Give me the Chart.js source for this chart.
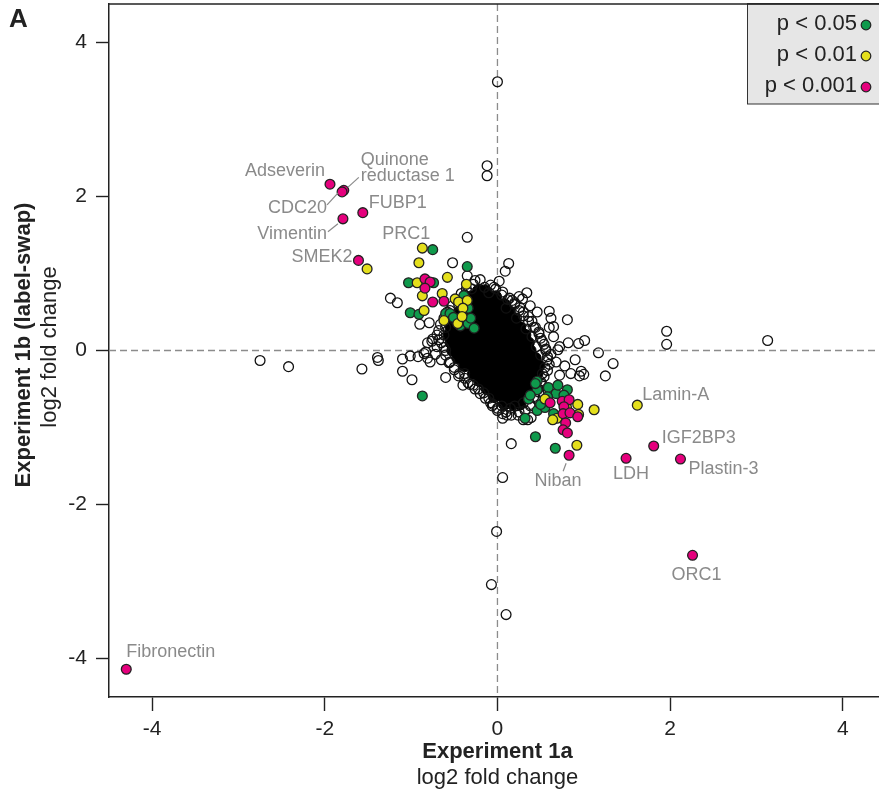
<!DOCTYPE html>
<html>
<head>
<meta charset="utf-8">
<script src="https://cdn.jsdelivr.net/npm/chart.js@4.4.1/dist/chart.umd.min.js"></script>
<style>
  html, body { margin: 0; padding: 0; background: #fff; overflow: hidden; }
  #wrap { width: 879px; height: 797px; }
</style>
</head>
<body>
<div id="wrap"><canvas id="foldchange" width="879" height="797"></canvas></div>
<script>
// tick values
const xTicks = [-4, -2, 0, 2, 4];
const yTicks = [-4, -2, 0, 2, 4];
const legendLabels = ['p < 0.05', 'p < 0.01', 'p < 0.001'];

// p < 0.001 (first 12 are the named proteins)
const p001 = [
	[-4.30, -4.14], [-1.94, 2.16], [-1.78, 2.08], [-1.80, 2.06], [-1.56, 1.79], [-1.79, 1.71],
	[-1.61, 1.17], [1.81, -1.24], [1.49, -1.40], [2.12, -1.41], [2.26, -2.66], [0.83, -1.36],
	[-0.84, 0.93], [-0.78, 0.89], [-0.84, 0.81], [-0.75, 0.63], [-0.62, 0.64],
	[0.61, -0.68], [0.75, -0.66], [0.83, -0.64], [0.77, -0.73], [0.76, -0.82], [0.84, -0.81],
	[0.93, -0.86], [0.79, -0.94], [0.76, -1.03], [0.81, -1.07]
];

// p < 0.01 (Lamin-A, PRC1 first)
const p01 = [
	[1.62, -0.71], [-0.87, 1.33], [-1.51, 1.06], [-0.91, 1.14], [-0.58, 0.95], [-0.93, 0.88],
	[-0.36, 0.86], [-0.87, 0.71], [-0.64, 0.74], [-0.49, 0.67], [-0.45, 0.63], [-0.35, 0.65],
	[-0.40, 0.55], [-0.85, 0.52], [-0.62, 0.39], [-0.46, 0.35], [-0.41, 0.44],
	[0.55, -0.63], [0.93, -0.70], [0.94, -0.83], [0.69, -0.88], [0.64, -0.90], [1.12, -0.77],
	[0.92, -1.23], [0.80, -0.74]
];

// p < 0.05
const p05 = [
	[-0.75, 1.31], [-0.35, 1.09], [-1.03, 0.88], [-0.74, 0.88], [-0.39, 0.71], [-0.34, 0.55],
	[-1.01, 0.49], [-0.91, 0.47], [-0.60, 0.48], [-0.55, 0.48], [-0.51, 0.43], [-0.43, 0.32],
	[-0.34, 0.35], [-0.27, 0.29], [-0.31, 0.42], [-0.87, -0.59],
	[0.46, -0.40], [0.46, -0.51], [0.59, -0.48], [0.68, -0.56], [0.81, -0.51], [0.77, -0.58],
	[0.36, -0.63], [0.46, -0.78], [0.55, -0.74], [0.65, -0.82], [0.32, -0.88], [0.44, -1.12],
	[0.67, -1.27], [0.44, -0.43], [0.38, -0.58], [0.50, -0.70], [0.58, -0.60], [0.70, -0.45]
];

// not significant, dense centre (outlines overlap into solid black)
const nsCore = [
	[-0.22, 0.78], [-0.14, 0.78],
	[-0.30, 0.70], [-0.20, 0.70], [-0.10, 0.70], [-0.02, 0.70],
	[-0.38, 0.60], [-0.28, 0.60], [-0.18, 0.60], [-0.08, 0.60], [0.02, 0.60], [0.08, 0.60],
	[-0.44, 0.50], [-0.34, 0.50], [-0.24, 0.50], [-0.14, 0.50], [-0.04, 0.50], [0.06, 0.50], [0.14, 0.50],
	[-0.50, 0.40], [-0.40, 0.40], [-0.30, 0.40], [-0.20, 0.40], [-0.10, 0.40], [0.00, 0.40], [0.10, 0.40], [0.20, 0.40],
	[-0.54, 0.30], [-0.44, 0.30], [-0.34, 0.30], [-0.24, 0.30], [-0.14, 0.30], [-0.04, 0.30], [0.06, 0.30], [0.16, 0.30], [0.26, 0.30],
	[-0.56, 0.20], [-0.46, 0.20], [-0.36, 0.20], [-0.26, 0.20], [-0.16, 0.20], [-0.06, 0.20], [0.04, 0.20], [0.14, 0.20], [0.24, 0.20], [0.32, 0.20],
	[-0.54, 0.10], [-0.44, 0.10], [-0.34, 0.10], [-0.24, 0.10], [-0.14, 0.10], [-0.04, 0.10], [0.06, 0.10], [0.16, 0.10], [0.26, 0.10], [0.36, 0.10],
	[-0.52, 0.00], [-0.42, 0.00], [-0.32, 0.00], [-0.22, 0.00], [-0.12, 0.00], [-0.02, 0.00], [0.08, 0.00], [0.18, 0.00], [0.28, 0.00], [0.38, 0.00],
	[-0.46, -0.10], [-0.36, -0.10], [-0.26, -0.10], [-0.16, -0.10], [-0.06, -0.10], [0.04, -0.10], [0.14, -0.10], [0.24, -0.10], [0.34, -0.10], [0.44, -0.10],
	[-0.38, -0.20], [-0.28, -0.20], [-0.18, -0.20], [-0.08, -0.20], [0.02, -0.20], [0.12, -0.20], [0.22, -0.20], [0.32, -0.20], [0.42, -0.20], [0.48, -0.20],
	[-0.28, -0.30], [-0.18, -0.30], [-0.08, -0.30], [0.02, -0.30], [0.12, -0.30], [0.22, -0.30], [0.32, -0.30], [0.42, -0.30], [0.46, -0.30],
	[-0.20, -0.40], [-0.10, -0.40], [0.00, -0.40], [0.10, -0.40], [0.20, -0.40], [0.30, -0.40], [0.40, -0.40],
	[-0.12, -0.50], [-0.02, -0.50], [0.08, -0.50], [0.18, -0.50], [0.28, -0.50], [0.38, -0.50],
	[-0.04, -0.60], [0.06, -0.60], [0.16, -0.60], [0.26, -0.60], [0.34, -0.60],
	[0.08, -0.70], [0.18, -0.70], [0.26, -0.70]
];

// not significant, visible single circles
const nsOuter = [
	[0.00, 3.49], [-0.12, 2.40], [-0.12, 2.27], [-0.35, 1.47], [0.13, 1.13], [0.09, 1.03], [-0.52, 1.14],
	[-0.35, 0.97], [-0.26, 0.91], [-1.24, 0.68], [-1.16, 0.62], [-0.90, 0.34], [-0.79, 0.36],
	[0.34, 0.75], [0.29, 0.67], [0.17, 0.65], [0.60, 0.51], [0.81, 0.40], [0.65, 0.31], [0.82, 0.10],
	[0.94, 0.09], [0.70, 0.01], [1.01, 0.13], [1.17, -0.03], [1.34, -0.17], [1.25, -0.33], [1.00, -0.31],
	[0.97, -0.27], [1.96, 0.25], [1.96, 0.08], [3.13, 0.13],
	[0.16, -1.21], [0.06, -1.65], [-0.01, -2.35], [-0.07, -3.04], [0.10, -3.43],
	[-2.75, -0.13], [-2.42, -0.21], [-1.57, -0.24], [-1.39, -0.09], [-1.38, -0.13], [-1.10, -0.11],
	[-1.01, -0.07], [-1.10, -0.27], [-0.99, -0.38], [-0.81, 0.10], [-0.83, -0.02], [-0.81, -0.10],
	[0.05, 0.72], [0.12, 0.66], [0.20, 0.60], [0.10, 0.55], [0.25, 0.52], [0.30, 0.45], [0.22, 0.42],
	[0.36, 0.38], [0.42, 0.30], [0.33, 0.28], [0.48, 0.22], [0.40, 0.18], [0.52, 0.12], [0.45, 0.05],
	[0.56, 0.02], [0.50, -0.06], [0.58, -0.12], [0.55, -0.22], [0.60, 0.30], [0.65, 0.18], [0.72, 0.05],
	[0.62, -0.05], [0.68, -0.15], [0.78, -0.20], [0.85, -0.30], [0.72, -0.32], [0.90, -0.12], [0.95, -0.33],
	[0.62, 0.42], [0.46, 0.50], [0.38, 0.58], [0.25, 0.70], [-0.02, 0.80], [0.02, 0.90], [-0.08, 0.85],
	[-0.15, 0.82], [-0.30, 0.80], [-0.20, 0.92], [-0.10, 0.75], [-0.38, 0.72], [-0.45, 0.60], [-0.55, 0.52],
	[-0.50, 0.40], [-0.60, 0.30], [-0.62, 0.20], [-0.65, 0.10], [-0.60, 0.00], [-0.70, 0.05], [-0.72, -0.05],
	[-0.65, -0.12], [-0.75, 0.15], [-0.76, 0.12], [-0.68, 0.14], [-0.85, -0.04], [-0.92, -0.08], [-0.78, -0.15],
	[-0.55, -0.15], [-0.50, -0.25], [-0.45, -0.33], [-0.38, -0.30], [-0.34, -0.42], [-0.28, -0.45],
	[-0.22, -0.50], [-0.16, -0.55], [-0.10, -0.62], [-0.05, -0.70], [0.00, -0.75], [0.05, -0.72],
	[0.10, -0.80], [0.15, -0.75], [0.20, -0.72], [0.25, -0.80], [-0.40, -0.45], [-0.60, -0.35],
	[0.30, -0.68], [0.38, -0.70], [0.42, -0.60], [0.47, -0.50], [0.50, -0.40], [0.52, -0.30],
	[0.30, -0.90], [0.35, -0.90], [0.39, -0.87], [0.11, -0.84], [0.06, -0.88], [-0.06, -0.72],
	[-0.28, 0.86], [-0.36, 0.80], [-0.42, 0.74], [-0.48, 0.66], [-0.52, 0.58], [-0.58, 0.50],
	[-0.62, 0.42], [-0.66, 0.34], [-0.68, 0.26], [-0.70, 0.20],
	[-0.04, 0.82], [0.06, 0.76], [0.14, 0.68], [0.20, 0.62], [0.26, 0.56], [0.30, 0.50], [0.36, 0.44],
	[0.40, 0.38], [0.44, 0.30], [0.48, 0.24], [0.50, 0.16], [0.54, 0.08], [0.56, 0.00], [0.58, -0.08],
	[0.60, -0.18], [0.58, -0.26],
	[-0.62, 0.04], [-0.60, -0.06], [-0.56, -0.16], [-0.50, -0.22], [-0.44, -0.30], [-0.38, -0.36],
	[-0.32, -0.44], [-0.26, -0.50], [-0.20, -0.56], [-0.14, -0.62], [-0.08, -0.68], [0.00, -0.78], [0.06, -0.82],
	[0.54, -0.34], [0.52, -0.44], [0.48, -0.54], [0.44, -0.62], [0.38, -0.72], [0.32, -0.78], [0.24, -0.84], [0.16, -0.84]
];

// gene labels: text, series, index, dx, dy, align, leader line
const geneLabels = [
	['Fibronectin', p001, 0, 0, -17, 'left'],
	['Adseverin', p001, 1, -5, -13, 'right'],
	['Quinone\nreductase 1', p001, 2, 17, -30, 'left', [4, -3, 15, -13]],
	['CDC20', p001, 3, -15, 16, 'right', [-4, 1, -15, 13]],
	['FUBP1', p001, 4, 6, -10, 'left'],
	['Vimentin', p001, 5, -16, 15, 'right', [-5, 5, -15, 13]],
	['SMEK2', p001, 6, -6, -3, 'right'],
	['IGF2BP3', p001, 7, 8, -8, 'left'],
	['LDH', p001, 8, 5, 16, 'center'],
	['Plastin-3', p001, 9, 8, 10, 'left'],
	['ORC1', p001, 10, 4, 20, 'center'],
	['Niban', p001, 11, -11, 26, 'center', [-3, 8, -6, 16]],
	['Lamin-A', p01, 0, 5, -10, 'left'],
	['PRC1', p01, 1, -16, -14, 'center']
];

const FONT = "'Liberation Sans', Arial, Helvetica, sans-serif";
const INK = '#222';
const MAGENTA = '#e5007d';
const YELLOW = '#e4df1c';
const GREEN = '#0f9a4c';
const LABEL_GREY = '#8a8a8a';

function toPts(arr) {
	return arr.map(function (p) { return { x: p[0], y: p[1] }; });
}

function dotSet(label, arr, fill, r, bw, stroke) {
	return {
		label: label,
		data: toPts(arr),
		backgroundColor: fill,
		borderColor: stroke || INK,
		borderWidth: bw,
		pointRadius: r,
		pointHoverRadius: r
	};
}

// no extra padding round the plot area, the frame sits on fixed pixels
function noPad(s) {
	s.paddingTop = 0; s.paddingBottom = 0; s.paddingLeft = 0; s.paddingRight = 0;
}

// dashed zero lines under the points
const zeroLines = {
	id: 'zeroLines',
	beforeDatasetsDraw(chart) {
		const ctx = chart.ctx, a = chart.chartArea;
		const x0 = chart.scales.x.getPixelForValue(0);
		const y0 = chart.scales.y.getPixelForValue(0);
		ctx.save();
		ctx.strokeStyle = '#8c8c8c';
		ctx.lineWidth = 1.3;
		ctx.setLineDash([7, 4]);
		ctx.beginPath();
		ctx.moveTo(x0, a.top); ctx.lineTo(x0, a.bottom);
		ctx.moveTo(a.left, y0); ctx.lineTo(a.right, y0);
		ctx.stroke();
		ctx.restore();
	}
};

// frame top, gene names, legend, axis titles, panel letter
const decorations = {
	id: 'decorations',
	afterDraw(chart) {
		const ctx = chart.ctx, a = chart.chartArea;
		const sx = chart.scales.x, sy = chart.scales.y;
		ctx.save();

		// top edge of frame
		ctx.strokeStyle = INK;
		ctx.lineWidth = 1.5;
		ctx.beginPath();
		ctx.moveTo(a.left, a.top); ctx.lineTo(a.right, a.top);
		ctx.stroke();

		// gene names
		ctx.fillStyle = LABEL_GREY;
		ctx.strokeStyle = LABEL_GREY;
		ctx.lineWidth = 1.2;
		ctx.font = '18px ' + FONT;
		ctx.textBaseline = 'middle';
		geneLabels.forEach(function (g) {
			const pt = g[1][g[2]];
			const px = sx.getPixelForValue(pt[0]);
			const py = sy.getPixelForValue(pt[1]);
			ctx.textAlign = g[5];
			g[0].split('\n').forEach(function (line, i) {
				ctx.fillText(line, px + g[3], py + g[4] + i * 16);
			});
			if (g[6]) {
				ctx.beginPath();
				ctx.moveTo(px + g[6][0], py + g[6][1]);
				ctx.lineTo(px + g[6][2], py + g[6][3]);
				ctx.stroke();
			}
		});

		// legend box
		ctx.fillStyle = '#e6e6e6';
		ctx.fillRect(747, a.top, 140, 100);
		ctx.strokeStyle = '#333';
		ctx.lineWidth = 1;
		ctx.strokeRect(747.5, a.top, 140, 100);
		ctx.strokeStyle = INK;
		ctx.lineWidth = 1.5;
		ctx.beginPath();
		ctx.moveTo(747, a.top); ctx.lineTo(a.right, a.top);
		ctx.stroke();
		const colors = [GREEN, YELLOW, MAGENTA];
		ctx.font = '22px ' + FONT;
		ctx.textAlign = 'right';
		legendLabels.forEach(function (t, i) {
			const y = 24 + i * 31;
			ctx.fillStyle = INK;
			ctx.fillText(t, 857, y);
			ctx.beginPath();
			ctx.arc(866, y + 1, 4.8, 0, Math.PI * 2);
			ctx.fillStyle = colors[i];
			ctx.fill();
			ctx.strokeStyle = INK;
			ctx.lineWidth = 1.2;
			ctx.stroke();
		});

		// axis titles
		ctx.fillStyle = INK;
		ctx.textAlign = 'center';
		ctx.font = 'bold 22px ' + FONT;
		ctx.fillText('Experiment 1a', sx.getPixelForValue(0), 752);
		ctx.font = '22px ' + FONT;
		ctx.fillText('log2 fold change', sx.getPixelForValue(0), 778);

		ctx.save();
		ctx.translate(24, 345);
		ctx.rotate(-Math.PI / 2);
		ctx.font = 'bold 22px ' + FONT;
		ctx.fillText('Experiment 1b (label-swap)', 0, 0);
		ctx.restore();
		ctx.save();
		ctx.translate(50, 347);
		ctx.rotate(-Math.PI / 2);
		ctx.font = '22px ' + FONT;
		ctx.fillText('log2 fold change', 0, 0);
		ctx.restore();

		// panel letter
		ctx.font = 'bold 26px ' + FONT;
		ctx.textAlign = 'left';
		ctx.fillText('A', 9, 20);

		ctx.restore();
	}
};

const plotCtx = document.getElementById('foldchange');

new Chart(plotCtx, {
	type: 'scatter',
	data: {
		// first dataset is drawn on top
		datasets: [
			dotSet('p < 0.001', p001, MAGENTA, 4.9, 1.3),
			dotSet('p < 0.01', p01, YELLOW, 4.9, 1.3),
			dotSet('p < 0.05', p05, GREEN, 4.9, 1.3),
			dotSet('ns', nsOuter, 'rgba(0,0,0,0)', 4.9, 1.3, '#111'),
			dotSet('ns core', nsCore, '#000', 5.8, 1, '#000')
		]
	},
	options: {
		responsive: false,
		animation: false,
		events: [],
		layout: { autoPadding: false, padding: { top: 4, left: 0, right: 0, bottom: 0 } },
		plugins: {
			legend: { display: false },
			tooltip: { enabled: false }
		},
		scales: {
			x: {
				type: 'linear',
				min: -4.5,
				max: 4.42,
				afterBuildTicks: function (s) { s.ticks = xTicks.map(function (v) { return { value: v }; }); },
				afterFit: function (s) { s.height = 100; noPad(s); },
				grid: { drawOnChartArea: false, drawTicks: true, tickLength: 14, tickColor: INK, tickWidth: 1.4 },
				border: { display: true, color: INK, width: 1.5 },
				ticks: { color: INK, font: { family: FONT, size: 21 }, padding: 6, maxRotation: 0 }
			},
			y: {
				type: 'linear',
				min: -4.5,
				max: 4.5,
				afterBuildTicks: function (s) { s.ticks = yTicks.map(function (v) { return { value: v }; }); },
				afterFit: function (s) { s.width = 109; noPad(s); },
				grid: { drawOnChartArea: false, drawTicks: true, tickLength: 13, tickColor: INK, tickWidth: 1.4 },
				border: { display: true, color: INK, width: 1.5 },
				ticks: { color: INK, font: { family: FONT, size: 21 }, padding: 9 }
			}
		}
	},
	plugins: [zeroLines, decorations]
});
</script>
</body>
</html>
